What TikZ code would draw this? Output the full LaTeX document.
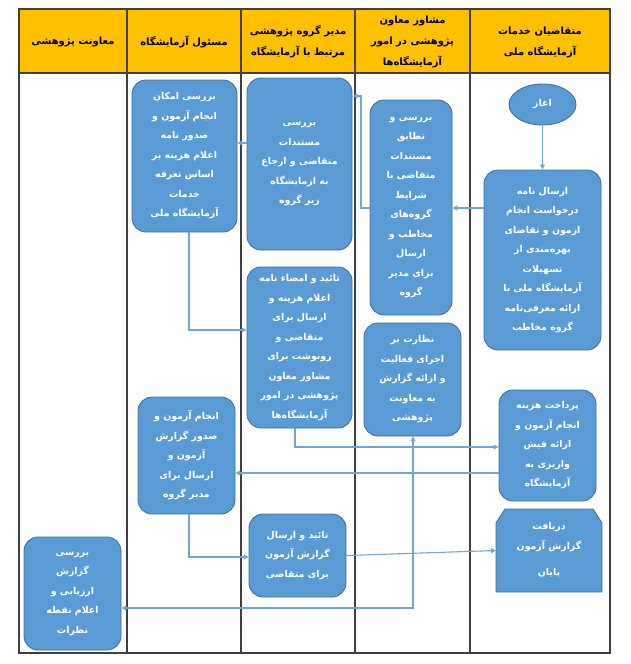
\documentclass[tikz,border=0pt]{standalone}
\usepackage{fontspec}
\newfontfamily\fa[Script=Arabic]{DejaVu Sans}
\TeXXeTstate=1
\usetikzlibrary{arrows.meta,shapes.geometric,calc}
\definecolor{hdr}{HTML}{FFC000}
\definecolor{boxfill}{HTML}{5B9BD5}
\definecolor{boxline}{HTML}{41719C}
\definecolor{conn}{HTML}{6FA6DA}
\definecolor{gridc}{HTML}{3F3F3F}
\newcommand{\faline}[1]{\beginR #1\endR}
\newcommand{\zw}{\char"200C\relax}
\begin{document}
\begin{tikzpicture}[x=1pt,y=-1pt,
  box/.style={draw=boxline, fill=boxfill, line width=0.9pt, rounded corners=14pt, text=white,
    font=\fa\bfseries\fontsize{9.4}{19.5}\selectfont, align=center, inner sep=0pt},
  boxtext/.style={text=white, font=\fa\bfseries\fontsize{9.4}{19.5}\selectfont, align=center, inner sep=0pt},
  hdrtext/.style={font=\fa\bfseries\fontsize{10}{21}\selectfont, align=center, text=black},
  arr/.style={draw=conn, line width=1.1pt, -{Triangle[length=5pt,width=5pt]}},
  arrboth/.style={draw=conn, line width=1.1pt, {Triangle[length=5pt,width=5pt]}-{Triangle[length=5pt,width=5pt]}},
  gridline/.style={draw=gridc, line width=1.1pt}
]
\useasboundingbox (0,0) rectangle (631,664);
% header band and grid
\fill[hdr] (19,9) rectangle (610,73);
\draw[gridline] (19,9) rectangle (610,653);
\draw[gridline] (19,73) -- (610,73);
\foreach \xx in {127,241,355,470} \draw[gridline] (\xx,9) -- (\xx,653);
% header texts
\node[hdrtext] (h1) at (540,42) {\faline{متقاضیان خدمات}\\\faline{آزمایشگاه ملی}};
\node[hdrtext] (h2) at (412.5,42) {\faline{مشاور معاون}\\\faline{پژوهشی در امور}\\\faline{آزمایشگاه\zw ها}};
\node[hdrtext] (h3) at (298,42) {\faline{مدیر گروه پژوهشی}\\\faline{مرتبط با آزمایشگاه}};
\node[hdrtext] (h4) at (184,42) {\faline{مسئول آزمایشگاه}};
\node[hdrtext] (h5) at (73,42) {\faline{معاونت پژوهشی}};
% boxes
\node[box, ellipse, rounded corners=0pt, minimum width=67, minimum height=41] (start) at (542.5,104.5) {\faline{اغاز}};
\node[box, minimum width=117, minimum height=180] (req) at (542.5,260)
 {\faline{ارسال نامه}\\\faline{درخواست انجام}\\\faline{ازمون و تقاضای}\\\faline{بهره\zw مندی از}\\\faline{تسهیلات}\\\faline{آزمایشگاه ملی با}\\\faline{ارائه معرفی\zw نامه}\\\faline{گروه مخاطب}};
\node[box, minimum width=82, minimum height=215] (check) at (411,207.5)
 {\faline{بررسی و}\\\faline{تطابق}\\\faline{مستندات}\\\faline{متقاضی با}\\\faline{شرایط}\\\faline{گروه\zw های}\\\faline{مخاطب و}\\\faline{ارسال}\\\faline{برای مدیر}\\\faline{گروه}};
\node[box, minimum width=105, minimum height=172] (docs) at (299.5,164)
 {\faline{بررسی}\\\faline{مستندات}\\\faline{متقاضی و ارجاع}\\\faline{به ازمایشگاه}\\\faline{زیر گروه}};
\node[box, minimum width=105, minimum height=152] (feasib) at (184.5,156)
 {\faline{بررسی امکان}\\\faline{انجام آزمون و}\\\faline{صدور نامه}\\\faline{اعلام هزینه بر}\\\faline{اساس تعرفه}\\\faline{خدمات}\\\faline{آزمایشگاه ملی}};
\node[box, minimum width=105, minimum height=161] (approve) at (299.5,347.5)
 {\faline{تائید و امضاء نامه}\\\faline{اعلام هزینه و}\\\faline{ارسال برای}\\\faline{متقاضی و}\\\faline{رونوشت برای}\\\faline{مشاور معاون}\\\faline{پژوهشی در امور}\\\faline{آزمایشگاه\zw ها}};
\node[box, minimum width=97, minimum height=113] (monitor) at (412.5,379.5)
 {\faline{نظارت بر}\\\faline{اجرای فعالیت}\\\faline{و ارائه گزارش}\\\faline{به معاونت}\\\faline{پژوهشی}};
\node[box, minimum width=97, minimum height=111] (pay) at (547.5,445.5)
 {\faline{پرداخت هزینه}\\\faline{انجام آزمون و}\\\faline{ارائه فیش}\\\faline{واریزی به}\\\faline{آزمایشگاه}};
\node[box, minimum width=97, minimum height=117] (test) at (186.5,455.5)
 {\faline{انجام آزمون و}\\\faline{صدور گزارش}\\\faline{آزمون و}\\\faline{ارسال برای}\\\faline{مدیر گروه}};
\node[box, minimum width=97, minimum height=83] (send) at (297.5,555.5)
 {\faline{تائید و ارسال}\\\faline{گزارش آزمون}\\\faline{برای متقاضی}};
\node[box, minimum width=97, minimum height=113] (eval) at (72.5,593.5)
 {\faline{بررسی}\\\faline{گزارش}\\\faline{ارزیابی و}\\\faline{اعلام نقطه}\\\faline{نظرات}};
% end shape (snipped top corners)
\filldraw[fill=boxfill, draw=boxline, line width=0.9pt]
  (496,592) -- (496,523) -- (505,509) -- (593,509) -- (602,523) -- (602,592) -- cycle;
\node[boxtext, minimum width=106, minimum height=83] (recv) at (549,550.5)
 {\faline{دریافت}\\\faline{گزارش آزمون}\\[7pt]\faline{پایان}};
% connectors
\draw[arr] (start) -- (req);
\draw[arr] (req.west |- 0,208) -- (check.east |- 0,208);
\coordinate (k1) at (361,96);
\draw[arr] (check.west |- 0,208) -| (k1) -- (docs.east |- k1);
\draw[arr] (docs.west |- 0,143) -- (feasib.east |- 0,143);
\coordinate (k2) at (189,330);
\draw[arr] (feasib.south -| k2) -- (k2) -- (approve.west |- k2);
\coordinate (k3) at (295,447);
\draw[arr] (approve.south -| k3) -- (k3) -- (pay.west |- k3);
\draw[arr] (pay.west |- 0,473) -- (test.east |- 0,473);
\coordinate (k4) at (189,557);
\draw[arr] (test.south -| k4) -- (k4) -- (send.west |- k4);
\draw[arr] (send.east) -- (recv.west);
\coordinate (k5) at (413,608);
\draw[arrboth] (eval.east |- k5) -- (k5) -- (monitor.south -| k5);
\end{tikzpicture}
\end{document}
